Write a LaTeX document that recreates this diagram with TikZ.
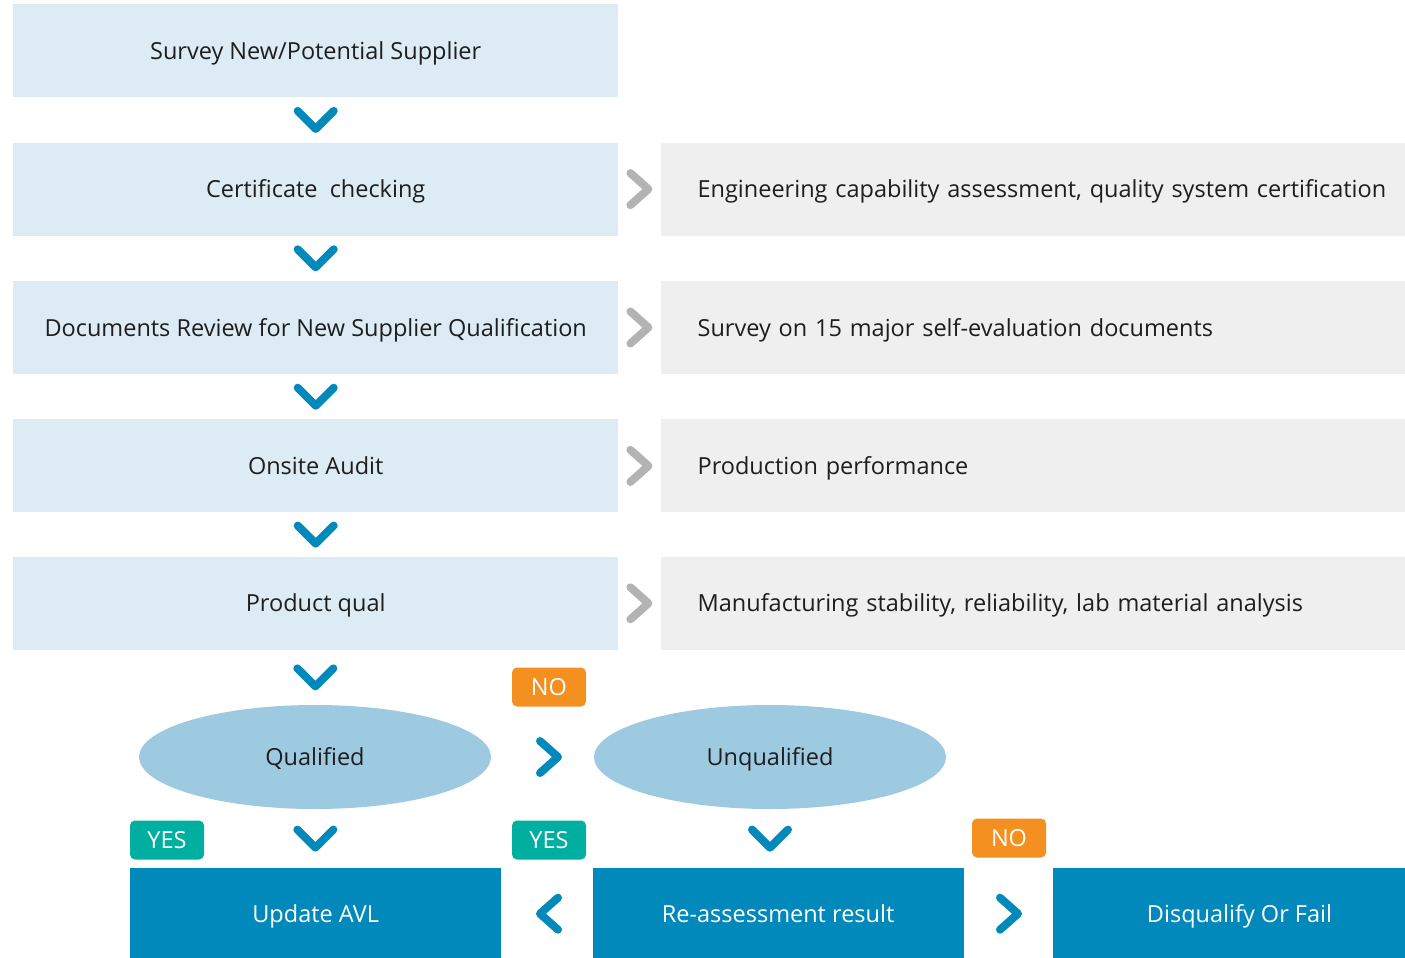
\documentclass[tikz,border=0pt]{standalone}
\usepackage{fontspec}
\setmainfont{Open Sans}
\usepackage{xcolor}
\usetikzlibrary{positioning,calc,shapes.geometric}

\definecolor{paleblue}{HTML}{DCEBF4}
\definecolor{palegray}{HTML}{EFEFEF}
\definecolor{ovalblue}{HTML}{9DCAE1}
\definecolor{deepblue}{HTML}{0089BA}
\definecolor{chevgray}{HTML}{B3B3B3}
\definecolor{tagorange}{HTML}{F39020}
\definecolor{tagteal}{HTML}{00AFA0}
\definecolor{inktext}{HTML}{1E1E1E}

\tikzset{
  chev/.style={line width=8pt, line cap=round, line join=round},
  downchev/.pic={\draw[chev] (-18,-9) -- (0,9) -- (18,-9);},
  rightchev/.pic={\draw[chev] (-9,-16) -- (9,0) -- (-9,16);},
  leftchev/.pic={\draw[chev] (9,-16) -- (-9,0) -- (9,16);}
}

\begin{document}
\begin{tikzpicture}[
  x=1pt, y=-1pt,
  every node/.style={font=\fontsize{23.5}{28}\selectfont, text=inktext, inner sep=0pt, text height=18pt, text depth=1pt},
  mainbox/.style={fill=paleblue, minimum width=605pt, minimum height=93pt},
  sidebox/.style={fill=palegray, minimum width=745pt, minimum height=93pt, text width=671pt, align=left},
  oval/.style={ellipse, fill=ovalblue, minimum width=352pt, minimum height=104pt},
  resbox/.style={fill=deepblue, text=white, minimum height=91pt},
  tagno/.style={fill=tagorange, text=white, rounded corners=5pt, minimum width=74pt, minimum height=39pt},
  tagyes/.style={fill=tagteal, text=white, rounded corners=5pt, minimum width=74pt, minimum height=39pt}
]
\useasboundingbox (0,0) rectangle (1405,958);

% main column
\node[mainbox, anchor=north west] (survey) at (13,4) {Survey New/Potential Supplier};
\node[mainbox, below=45pt of survey] (cert) {Certificate\ \ checking};
\node[mainbox, below=45pt of cert] (docs) {Documents Review for New Supplier Qualification};
\node[mainbox, below=45pt of docs] (onsite) {Onsite Audit};
\node[mainbox, below=44pt of onsite] (prodqual) {Product qual};

% details
\node[sidebox, right=42pt of cert] (engcap) {\mbox{Engineering capability assessment, quality system certification}};
\node[sidebox, right=42pt of docs] (selfeval) {Survey on 15 major self-evaluation documents};
\node[sidebox, right=42pt of onsite] (prodperf) {Production performance};
\node[sidebox, right=42pt of prodqual] (mfgstab) {Manufacturing stability, reliability, lab material analysis};

% result
\node[oval] (qual) at (315,757) {Qualified};
\node[oval] (unqual) at (770,757) {Unqualified};
\node[tagno] (no1) at (549,687) {NO};
\node[tagyes] (yes1) at (167,840) {YES};
\node[tagyes] (yes2) at (549,840) {YES};
\node[tagno] (no2) at (1009,838) {NO};

\node[resbox, minimum width=371pt, anchor=north west] (avl) at (130,868) {Update AVL};
\node[resbox, minimum width=371pt, right=91pt of avl] (reass) {Re-assessment result};
\node[resbox, minimum width=353pt, right=89pt of reass] (disq) {\hspace*{20pt}Disqualify Or Fail};

% chevrons
\foreach \a/\b in {survey/cert, cert/docs, docs/onsite, onsite/prodqual, prodqual/qual, qual/avl}
  \pic[deepblue] at ($(\a.south)!.5!(\b.north)$) {downchev};
\pic[deepblue] at ($(unqual.south)!.5!(unqual.south |- reass.north)$) {downchev};
\foreach \a/\b in {cert/engcap, docs/selfeval, onsite/prodperf, prodqual/mfgstab}
  \pic[chevgray] at ($(\a.east)!.5!(\b.west)$) {rightchev};
\pic[deepblue] at (no1 |- qual) {rightchev};
\pic[deepblue] at (yes2 |- reass) {leftchev};
\pic[deepblue] at (no2 |- disq) {rightchev};
\end{tikzpicture}
\end{document}
